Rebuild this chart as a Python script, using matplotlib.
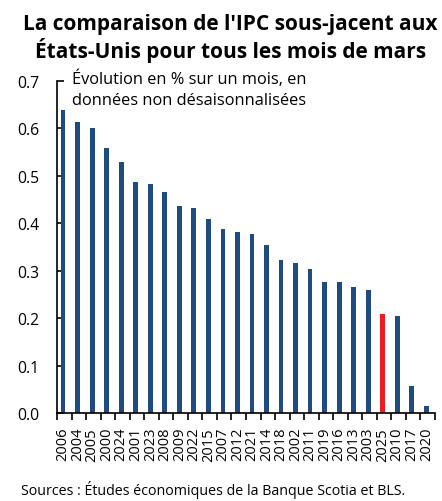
import matplotlib
matplotlib.use("Agg")
import matplotlib.pyplot as plt
import numpy as np

plt.rcParams['font.family'] = ['Open Sans', 'DejaVu Sans']

years = ["2006", "2004", "2005", "2000", "2024", "2001", "2023", "2008", "2009",
         "2022", "2015", "2007", "2012", "2021", "2014", "2018", "2002", "2011",
         "2019", "2016", "2013", "2003", "2025", "2010", "2017", "2020"]
values = [0.639, 0.614, 0.600, 0.558, 0.530, 0.488, 0.482, 0.467, 0.437,
          0.432, 0.408, 0.387, 0.381, 0.377, 0.355, 0.323, 0.317, 0.303,
          0.276, 0.276, 0.266, 0.259, 0.208, 0.205, 0.057, 0.015]
highlight = "2025"

blue = "#1f4b7f"
red = "#ed1c24"
colors = [red if y == highlight else blue for y in years]

fig = plt.figure(figsize=(4.42, 5.02), dpi=100)
ax = fig.add_axes([57/442, 88/502, (435-57)/442, (414-82)/502])

x = np.arange(len(years))
ax.bar(x, values, width=0.33, color=colors, zorder=2)

ax.set_ylim(0, 0.7)
ax.set_xlim(-0.42, len(years) - 0.4)
ax.set_yticks(np.arange(0, 0.71, 0.1))
ax.set_yticklabels([f"{v:.1f}" for v in np.arange(0, 0.71, 0.1)])
ax.tick_params(axis='y', direction='in', length=5, width=1.2, pad=13,
               labelsize=11.3, colors='black')

ax.set_xticks(x)
ax.set_xticklabels(years, rotation=90, fontsize=10.5)
ax.tick_params(axis='x', which='major', length=0, pad=10)
ax.set_xticks(np.arange(-0.41, len(years), 1), minor=True)
ax.tick_params(axis='x', which='minor', direction='out', length=5, width=1.2)

for s in ['top', 'right']:
    ax.spines[s].set_visible(False)
for s in ['left', 'bottom']:
    ax.spines[s].set_linewidth(1.2)

fig.text(0.522, 0.972, "La comparaison de l'IPC sous-jacent aux\nÉtats-Unis pour tous les mois de mars",
         ha='center', va='top', fontsize=15, fontweight='bold', linespacing=1.15)
ax.text(0.04, 0.976, "Évolution en % sur un mois, en\ndonnées non désaisonnalisées",
        transform=ax.transAxes, ha='left', va='center', fontsize=11.8, linespacing=1.45)
fig.text(0.048, 0.006, "Sources : Études économiques de la Banque Scotia et BLS.",
         ha='left', va='bottom', fontsize=10.3)

fig.savefig("out.png", dpi=100)
